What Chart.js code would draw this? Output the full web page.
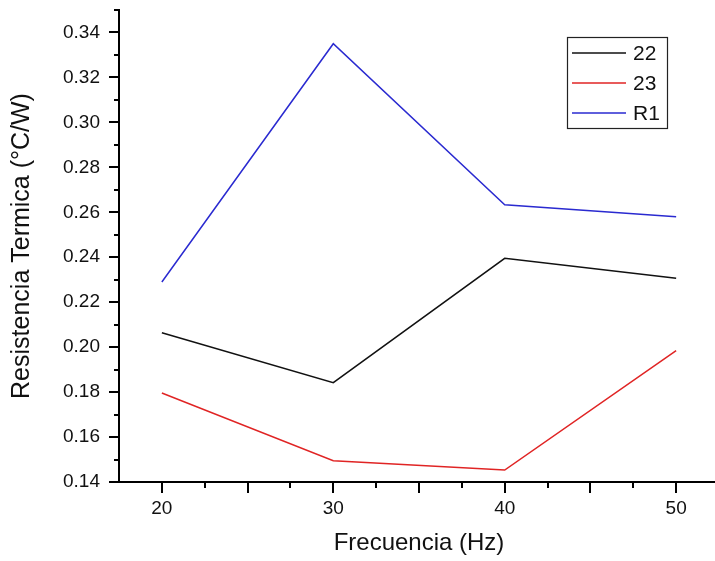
<!DOCTYPE html>
<html>
<head>
<meta charset="utf-8">
<script src="https://cdn.jsdelivr.net/npm/chart.js@4/dist/chart.umd.min.js"></script>
<style>
  html, body { margin: 0; padding: 0; background: #fff; overflow: hidden; }
  #wrap { width: 715px; height: 561px; overflow: hidden; }
  canvas { display: block; }
</style>
</head>
<body>
<div id="wrap"><canvas id="c" width="719" height="561"></canvas></div>
<script>
// ---- data ----
const frequencies = [20, 30, 40, 50];
const series22 = [0.2064, 0.1842, 0.2395, 0.2306];
const series23 = [0.1796, 0.1495, 0.1453, 0.1984];
const seriesR1 = [0.2290, 0.3350, 0.2633, 0.2580];
const seriesNames = ['22', '23', 'R1'];
const xTitle = 'Frecuencia (Hz)';
const yTitle = 'Resistencia Termica (°C/W)';

const FONT = '"Liberation Sans", Arial, sans-serif';
const colors = ['#111111', '#e02424', '#2a2ad0'];

function toPoints(vals) { return frequencies.map((f, i) => ({ x: f, y: vals[i] })); }

function noPad(s) { s.paddingTop = 0; s.paddingBottom = 0; s.paddingLeft = 0; s.paddingRight = 0; }

// tick marks (major/minor) drawn on library scales
const tickMarks = {
  id: 'tickMarks',
  afterDraw(chart) {
    const ctx = chart.ctx;
    const xs = chart.scales.x, ys = chart.scales.y;
    ctx.save();
    ctx.strokeStyle = '#000';
    ctx.lineWidth = 2;
    ys.ticks.forEach(t => {
      const r = Math.round(t.value * 100);
      const len = (r % 2 === 0) ? 10 : 5;
      const y = Math.round(ys.getPixelForValue(t.value));
      ctx.beginPath();
      ctx.moveTo(xs.left, y);
      ctx.lineTo(xs.left - len, y);
      ctx.stroke();
    });
    xs.ticks.forEach(t => {
      if (Math.abs(t.value - xs.min) < 1e-9) return;
      const r = Math.round(t.value * 10);
      const len = (r % 50 === 0) ? 11 : 6;
      const x = Math.round(xs.getPixelForValue(t.value));
      ctx.beginPath();
      ctx.moveTo(x, ys.bottom);
      ctx.lineTo(x, ys.bottom + len);
      ctx.stroke();
    });
    ctx.restore();
  }
};

// boxed legend like the reference
const boxLegend = {
  id: 'boxLegend',
  afterDraw(chart) {
    const ctx = chart.ctx;
    const bx = 567, by = 37, bw = 100, bh = 91;
    ctx.save();
    ctx.fillStyle = '#fff';
    ctx.fillRect(bx, by, bw, bh);
    ctx.strokeStyle = '#222';
    ctx.lineWidth = 1.2;
    ctx.strokeRect(bx + 0.5, by + 0.5, bw, bh);
    ctx.font = '21px ' + FONT;
    ctx.textBaseline = 'middle';
    ctx.textAlign = 'left';
    chart.data.datasets.forEach((ds, i) => {
      const y = 53 + i * 30;
      ctx.strokeStyle = ds.borderColor;
      ctx.lineWidth = 1.5;
      ctx.beginPath();
      ctx.moveTo(572, y);
      ctx.lineTo(626, y);
      ctx.stroke();
      ctx.fillStyle = '#111';
      ctx.fillText(ds.label, 633, y + 1);
    });
    ctx.restore();
  }
};

new Chart(document.getElementById('c'), {
  type: 'line',
  data: {
    datasets: [series22, series23, seriesR1].map((s, i) => ({
      label: seriesNames[i],
      data: toPoints(s),
      borderColor: colors[i],
      backgroundColor: colors[i],
      borderWidth: 1.5,
      pointRadius: 0,
      tension: 0,
      fill: false
    }))
  },
  options: {
    responsive: false,
    animation: false,
    devicePixelRatio: 1,
    layout: { padding: { top: 10, right: 0, left: 0, bottom: 0 } },
    plugins: { legend: { display: false }, tooltip: { enabled: false } },
    scales: {
      x: {
        type: 'linear',
        min: 17.5, max: 52.5,
        afterFit(s) { s.height = 79; noPad(s); },
        grid: { display: true, drawOnChartArea: false, drawTicks: false },
        border: { display: true, color: '#000', width: 2 },
        ticks: {
          stepSize: 2.5,
          padding: 15,
          color: '#111',
          font: { family: FONT, size: 19 },
          maxRotation: 0,
          autoSkip: false,
          callback: v => (Math.round(v * 10) % 100 === 0) ? String(Math.round(v)) : ''
        },
        title: {
          display: true, text: xTitle, color: '#111',
          font: { family: FONT, size: 24 },
          padding: { top: 0, bottom: 3 }
        }
      },
      y: {
        min: 0.14, max: 0.35,
        afterFit(s) { s.width = 119; noPad(s); },
        grid: { display: true, drawOnChartArea: false, drawTicks: false },
        border: { display: true, color: '#000', width: 2 },
        ticks: {
          stepSize: 0.01,
          padding: 19,
          color: '#111',
          font: { family: FONT, size: 19 },
          autoSkip: false,
          callback: v => { const r = Math.round(v * 100); return r % 2 === 0 ? (r / 100).toFixed(2) : ''; }
        },
        title: {
          display: true, text: yTitle, color: '#111',
          font: { family: FONT, size: 25 },
          padding: { top: 7, bottom: 0 }
        }
      }
    }
  },
  plugins: [tickMarks, boxLegend]
});
</script>
</body>
</html>
